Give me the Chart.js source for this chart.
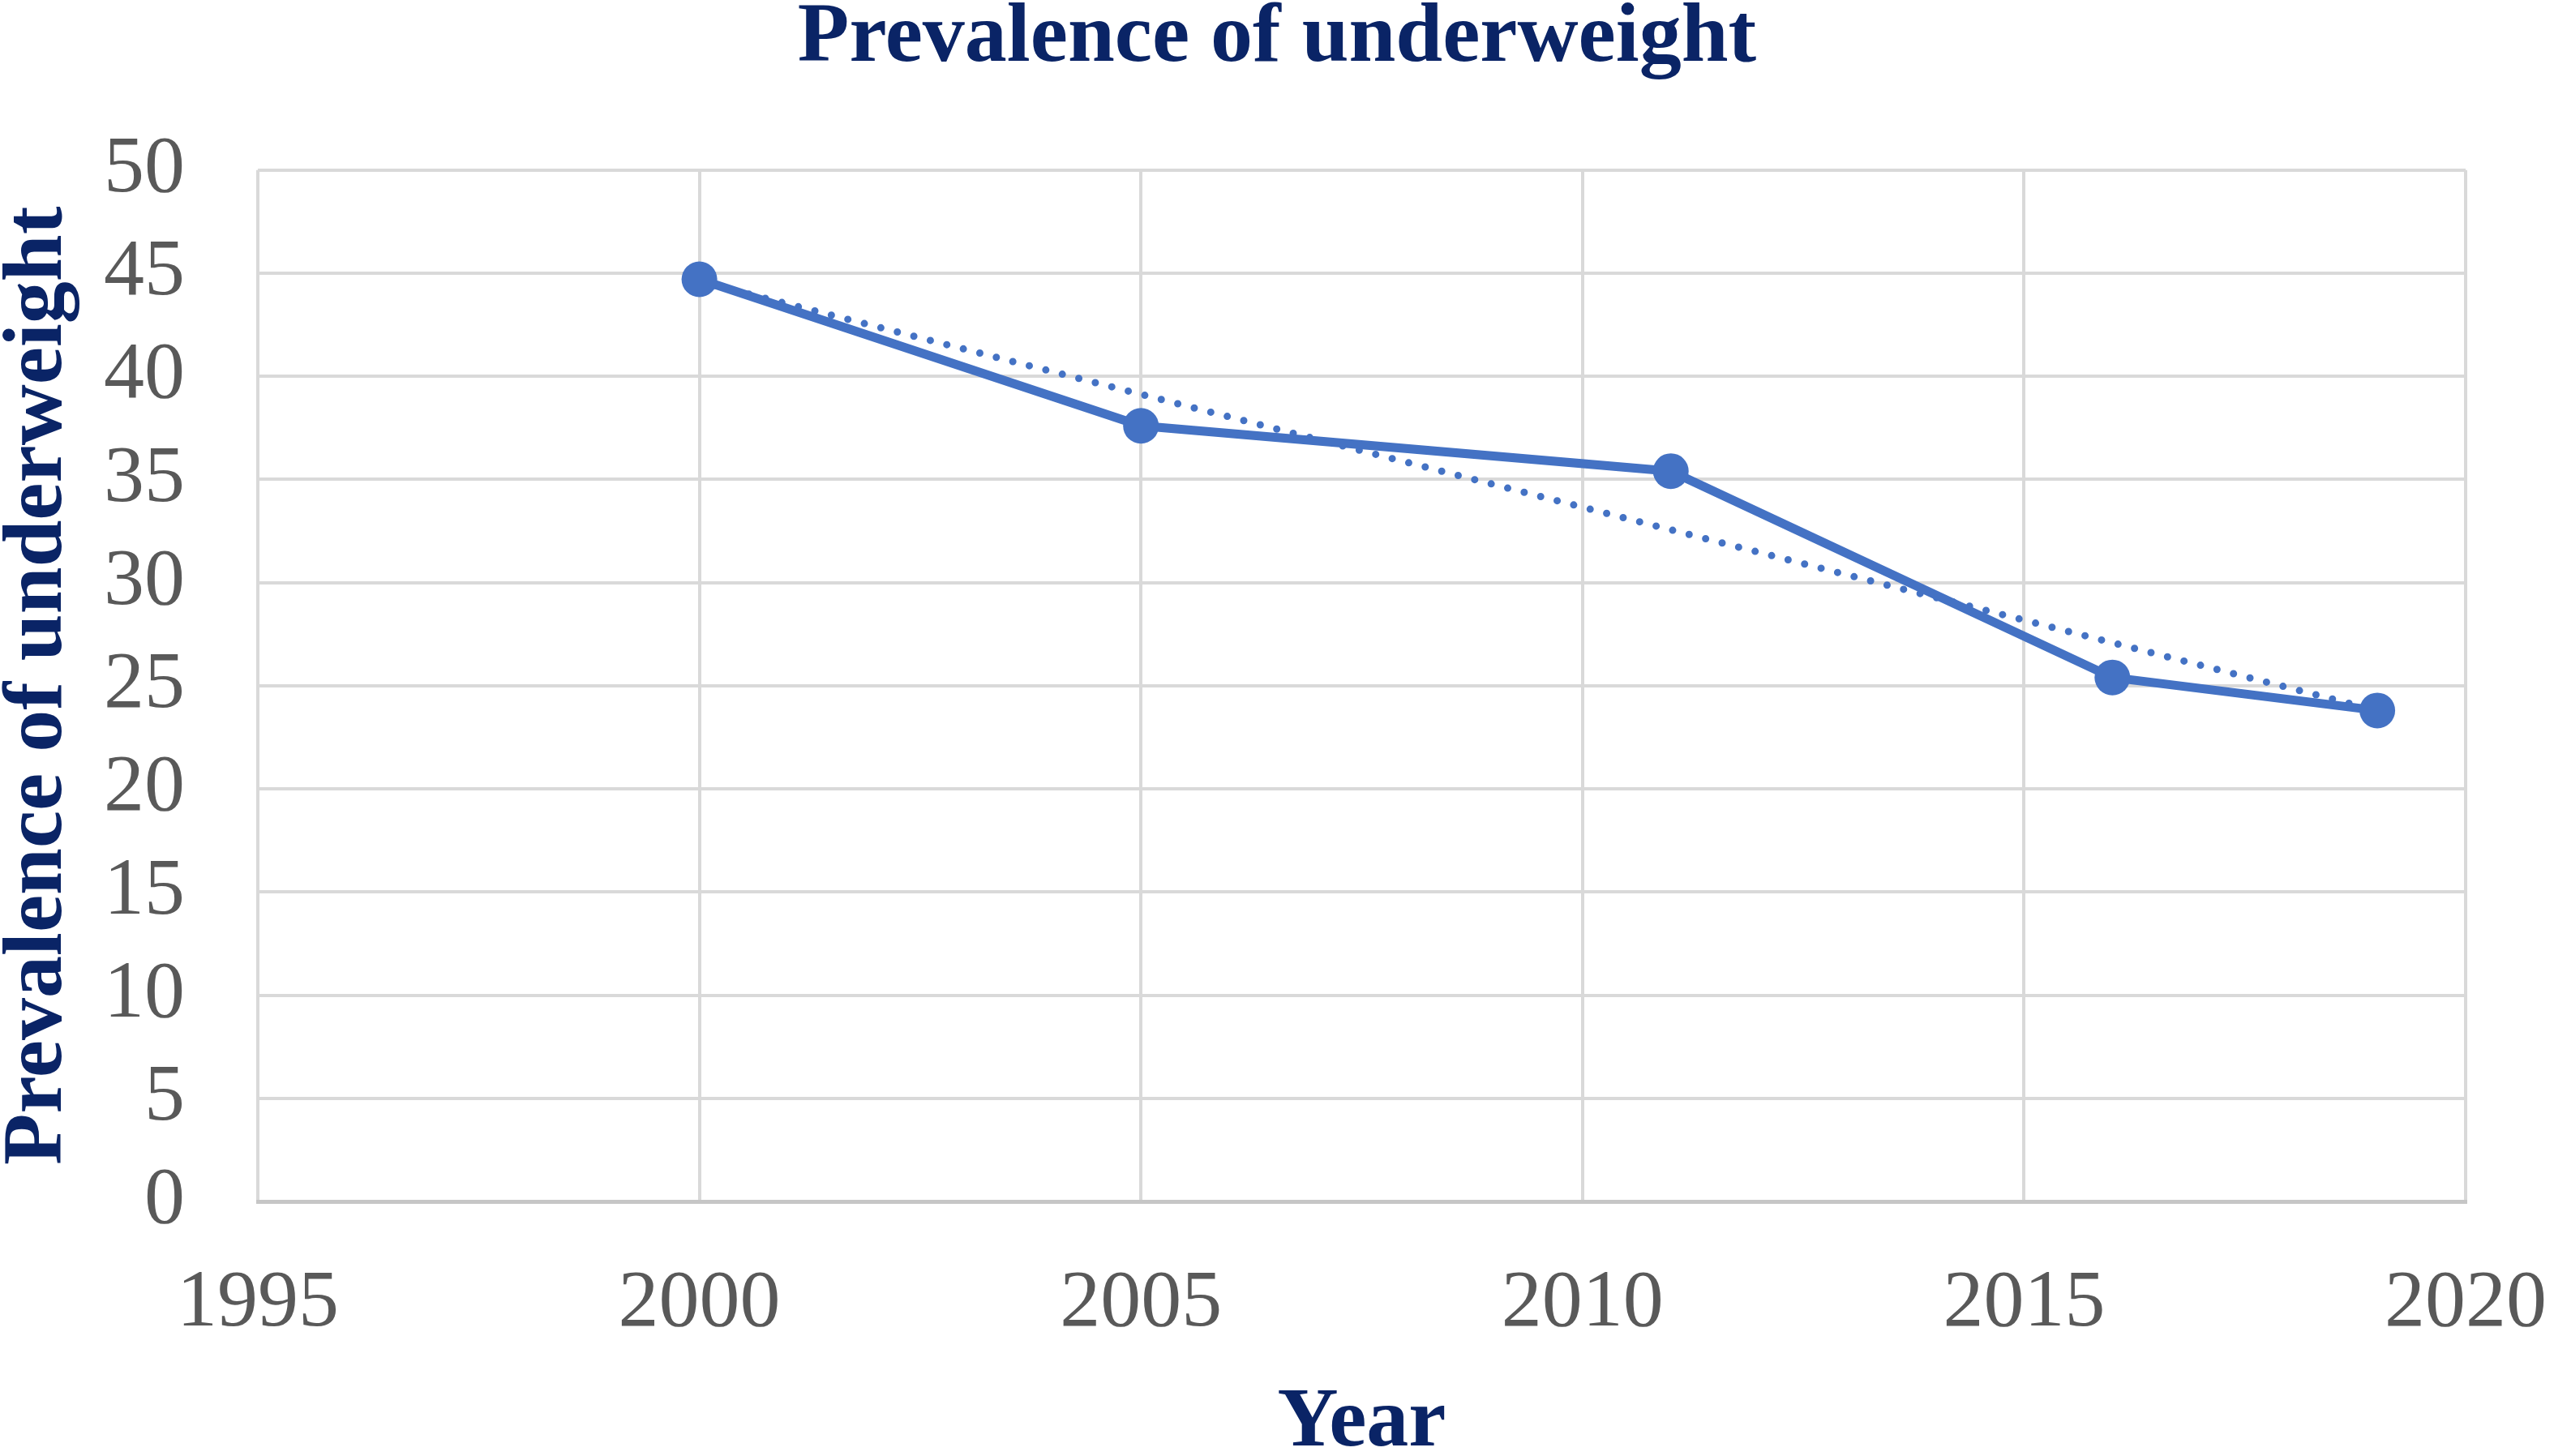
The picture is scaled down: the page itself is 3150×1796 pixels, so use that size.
<!DOCTYPE html>
<html>
<head>
<meta charset="utf-8">
<script src="https://cdn.jsdelivr.net/npm/chart.js@4.4.1/dist/chart.umd.min.js"></script>
<style>
  body { margin: 0; background: #fff; }
  #wrap { width: 3150px; height: 1796px; }
</style>
</head>
<body>
<div id="wrap"><canvas id="chart"></canvas></div>
<script>
// values
const years = [2000, 2005, 2011, 2016, 2019]
const underweight = [44.7, 37.6, 35.4, 25.4, 23.8]
// linear trendline, end points as drawn
const trendYears = [2000, 2019]
const trendValues = [44.6, 23.8]

const blue = '#4472C4'
const navy = '#0a2466'
const grey = '#595959'
const serif = "'Liberation Serif', 'Times New Roman', serif"

const toXY = (xs, ys) => xs.map((x, i) => ({ x: x, y: ys[i] }))

new Chart(document.getElementById('chart'), {
  type: 'line',
  data: {
    datasets: [
      {
        label: 'Prevalence of underweight',
        data: toXY(years, underweight),
        borderColor: blue,
        backgroundColor: blue,
        borderWidth: 11,
        pointRadius: 22,
        pointHoverRadius: 22,
        pointBackgroundColor: blue,
        pointBorderWidth: 0,
        fill: false,
        order: 1,
      },
      {
        label: 'Linear trend',
        data: toXY(trendYears, trendValues),
        borderColor: blue,
        borderWidth: 9,
        borderDash: [0, 21],
        borderCapStyle: 'round',
        pointRadius: 0,
        fill: false,
        order: 2,
      },
    ],
  },
  options: {
    responsive: true,
    maintainAspectRatio: false,
    devicePixelRatio: 1,
    animation: false,
    layout: { padding: 0 },
    plugins: {
      legend: { display: false },
      tooltip: { enabled: false },
      title: {
        display: true,
        text: 'Prevalence of underweight',
        color: navy,
        font: { family: serif, size: 104, weight: 'bold', lineHeight: 0.92 },
        padding: { top: 0, bottom: 114 },
      },
    },
    scales: {
      x: {
        type: 'linear',
        min: 1995,
        max: 2020,
        afterFit: (scale) => {
          scale.height = 314
          // the last label may hang past the plot, as in the original
          scale.paddingLeft = 0
          scale.paddingRight = 109
        },
        ticks: {
          stepSize: 5,
          color: grey,
          padding: 67,
          font: { family: serif, size: 100 },
          callback: (v) => String(v),
        },
        grid: { color: '#d9d9d9', lineWidth: 4, drawTicks: false },
        border: { color: '#c6c6c6', width: 5 },
        title: {
          display: true,
          text: 'Year',
          color: navy,
          font: { family: serif, size: 104, weight: 'bold', lineHeight: 0.92 },
          padding: { top: 0, bottom: -8 },
        },
      },
      y: {
        min: 0,
        max: 50,
        afterFit: (scale) => {
          scale.width = 318
        },
        ticks: {
          stepSize: 5,
          color: grey,
          padding: 90,
          font: { family: serif, size: 100 },
        },
        grid: { color: '#d9d9d9', lineWidth: 4, drawTicks: false },
        border: { display: false },
        title: {
          display: true,
          text: 'Prevalence of underweight',
          color: navy,
          font: { family: serif, size: 104, weight: 'bold', lineHeight: 0.92 },
          padding: 0,
        },
      },
    },
  },
})
</script>
</body>
</html>
